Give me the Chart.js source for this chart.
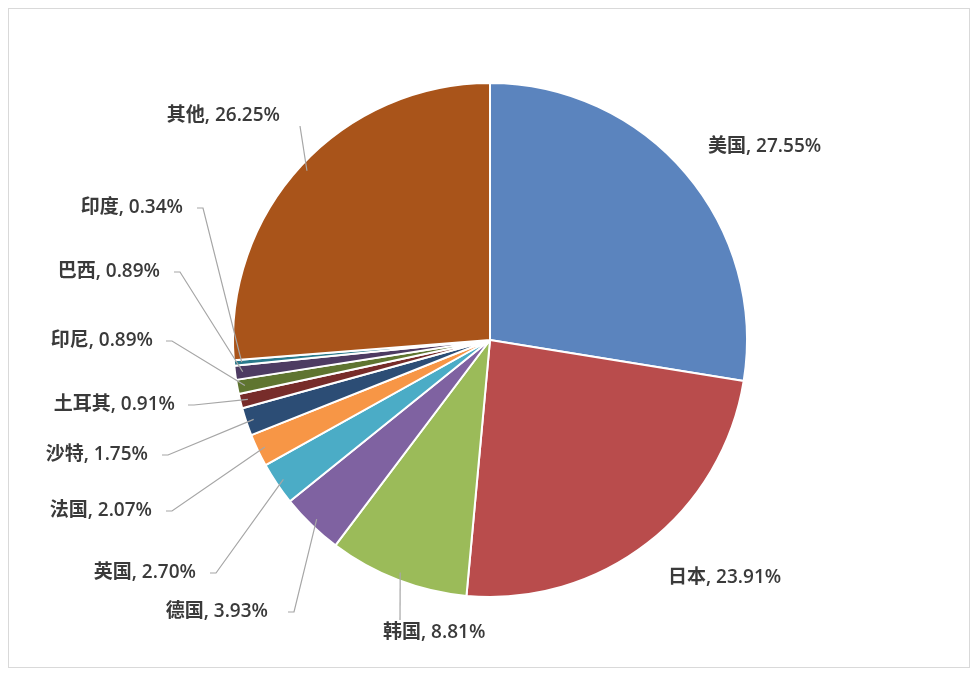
<!DOCTYPE html>
<html><head><meta charset="utf-8">
<script src="https://cdn.jsdelivr.net/npm/chart.js@4.4.0/dist/chart.umd.min.js"></script>
<style>
body{margin:0;background:#fff;}
#wrap{position:absolute;left:0;top:0;width:980px;height:679px;}
#frame{position:absolute;left:8px;top:8px;width:960px;height:658px;border:1px solid #d9d9d9;}
</style></head>
<body>
<div id="frame"></div>
<div id="wrap"><canvas id="c" width="980" height="679"></canvas></div>
<script>
// data
const countries = ['美国','日本','韩国','德国','英国','法国','沙特','土耳其','印尼','巴西','印度','其他'];
const shares = [27.55, 23.91, 8.81, 3.93, 2.70, 2.07, 1.75, 0.91, 0.89, 0.89, 0.34, 26.25];
const colors = ['#5b84be','#b94c4c','#9bbb59','#7f62a1','#4bacc6','#f79646','#2c4d75','#772c2a','#5f7530','#4d3b62','#2a7a8c','#a9541a'];

// label layout: [textX, textY, align, leaderX, leaderY] (leaderX null = no leader line)
const labelLayout = [
  [708, 147, 'left', null, null],
  [668, 578, 'left', null, null],
  [383, 633, 'left', 400, 620],
  [268, 612, 'right', 288, 612],
  [196, 573, 'right', 210, 573],
  [152, 511, 'right', 166, 511],
  [148, 455, 'right', 162, 455],
  [175, 405, 'right', 188, 405],
  [153, 341, 'right', 166, 341],
  [160, 272, 'right', 174, 272],
  [183, 208, 'right', 197, 208],
  [280, 116, 'right', 300, 126]
];

const labelPlugin = {
  id: 'pieLabels',
  afterDatasetsDraw(chart) {
    const ctx = chart.ctx;
    const arcs = chart.getDatasetMeta(0).data;
    ctx.save();
    ctx.font = '600 19px "Open Sans", "Noto Sans CJK SC", sans-serif';
    ctx.fillStyle = '#3a3a3a';
    ctx.textBaseline = 'middle';
    arcs.forEach((arc, i) => {
      const [tx, ty, align, lx, ly] = labelLayout[i];
      if (lx !== null) {
        const mid = (arc.startAngle + arc.endAngle) / 2;
        const r = arc.outerRadius * 0.97;
        const px = arc.x + Math.cos(mid) * r, py = arc.y + Math.sin(mid) * r;
        ctx.strokeStyle = '#a6a6a6';
        ctx.lineWidth = 1.2;
        ctx.beginPath();
        ctx.moveTo(px, py);
        if (i === 2 || i === 11) { ctx.lineTo(lx, ly); }
        else { ctx.lineTo(lx + 6, ly); ctx.lineTo(lx, ly); }
        ctx.stroke();
      }
      ctx.textAlign = align;
      ctx.fillText(countries[i] + ', ' + shares[i].toFixed(2) + '%', tx, ty);
    });
    ctx.restore();
  }
};

new Chart(document.getElementById('c'), {
  type: 'pie',
  data: { labels: countries, datasets: [{ data: shares, backgroundColor: colors, borderColor: '#fff', borderWidth: 2 }] },
  options: {
    responsive: false, animation: false,
    layout: { padding: { top: 82, bottom: 81, left: 232, right: 232 } },
    plugins: { legend: { display: false }, tooltip: { enabled: false } }
  },
  plugins: [labelPlugin]
});
</script>
</body></html>
